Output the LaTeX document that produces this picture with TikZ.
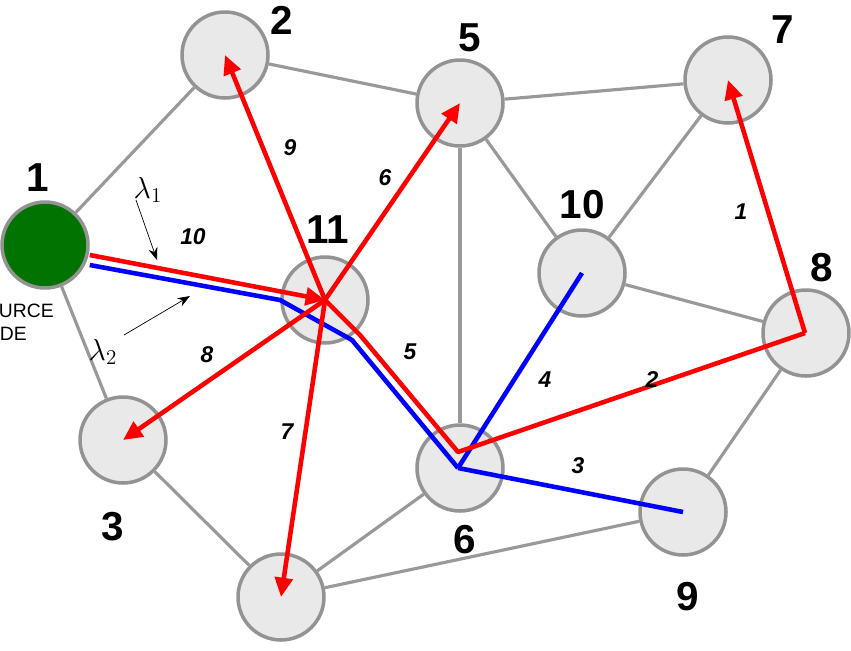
\documentclass[tikz,border=0pt]{standalone}
\usepackage{fontspec}
\setmainfont{Liberation Sans}
\usetikzlibrary{arrows.meta}
\begin{document}
\begin{tikzpicture}[x=0.02cm,y=-0.02cm,
  nd/.style={circle,draw=gray!85,line width=2pt,fill=gray!17,minimum size=1.72cm,inner sep=0},
  src/.style={nd,fill=green!45!black},
  edge/.style={gray!80,line width=1.8pt},
  rp/.style={red,line width=2.6pt},
  bp/.style={blue,line width=2.6pt},
  ra/.style={rp,-{Triangle[length=11pt,width=10pt]}},
  num/.style={font=\bfseries\fontsize{23}{25}\selectfont},
  elab/.style={font=\bfseries\itshape\fontsize{13}{15}\selectfont}]
\useasboundingbox (0,0) rectangle (851,650);
\node[src] (n1) at (45,245) {};
\node[nd] (n2) at (225,55) {};
\node[nd] (n5) at (460,103) {};
\node[nd] (n7) at (728,80) {};
\node[nd] (n10) at (582,273) {};
\node[nd] (n8) at (806,333) {};
\node[nd] (n11) at (325,300) {};
\node[nd] (n3) at (123,440) {};
\node[nd] (n6) at (460,468) {};
\node[nd] (n9) at (683,512) {};
\node[nd] (n4) at (281,597) {};
\draw[edge] (n1) -- (n2);
\draw[edge] (n1) -- (n3);
\draw[edge] (n2) -- (n5);
\draw[edge] (n5) -- (n7);
\draw[edge] (n5) -- (n6);
\draw[edge] (n5) -- (n10);
\draw[edge] (n10) -- (n7);
\draw[edge] (n10) -- (n8);
\draw[edge] (n8) -- (n9);
\draw[edge] (n9) -- (n4);
\draw[edge] (n6) -- (n4);
\draw[edge] (n3) -- (n4);
% labels
\node[num] (l1) at (38,178) {1};
\node[num] (l2) at (282,20) {2};
\node[num] (l5) at (470,38) {5};
\node[num] (l7) at (783,30) {7};
\node[num] (l10) at (582,205) {10};
\node[num] (l8) at (822,268) {8};
\node[num] (l11) at (328,230) {11};
\node[num] (l3) at (113,527) {3};
\node[num] (l6) at (465,540) {6};
\node[num] (l9) at (688,597) {9};
\node[align=left,font=\fontsize{11}{13}\selectfont,anchor=east,inner sep=0] (srcl) at (54,322) {SOURCE\\NODE};
% blue path
\coordinate (b1) at (280,300);
\coordinate (b2) at (352,340);
\coordinate (b6) at (458,468);
\draw[bp,line join=round] (n1.east |- 0,265) -- (b1) -- (b2) -- (b6);
\draw[bp] (b6) -- (n10.center);
\draw[bp] (b6) -- (n9.center);
% red paths
\coordinate (r6) at (458,452);
\coordinate (rm) at (360,335);
\coordinate (r8) at (805,333);
\draw[ra] (n1.east |- 0,255) -- (n11.center);
\draw[rp,line join=round] (n11.center) -- (rm) -- (r6) -- (r8);
\draw[ra] (r8) -- (n7.center);
\draw[ra] (n11.center) -- (n2.center);
\draw[ra] (n11.center) -- (n5.center);
\draw[ra] (n11.center) -- (n3.center);
\draw[ra] (n11.center) -- (n4.center);
% edge labels
\node[elab] at (290,148) {9};
\node[elab] at (385,178) {6};
\node[elab] at (193,237) {10};
\node[elab] at (207,355) {8};
\node[elab] at (410,352) {5};
\node[elab] at (287,432) {7};
\node[elab] at (545,380) {4};
\node[elab] at (652,380) {2};
\node[elab] at (578,466) {3};
\node[elab] at (741,212) {1};
% lambdas
\node[font=\fontsize{18}{20}\selectfont] (lam1) at (148,190) {$\lambda_1$};
\node[font=\fontsize{18}{20}\selectfont] (lam2) at (103,352) {$\lambda_2$};
\coordinate (a1) at (157,260);
\coordinate (a2) at (190,296);
\draw[-{Stealth[length=7pt]},thin] (136,200) -- (a1);
\draw[-{Stealth[length=7pt]},thin] (124,335) -- (a2);
\end{tikzpicture}
\end{document}
